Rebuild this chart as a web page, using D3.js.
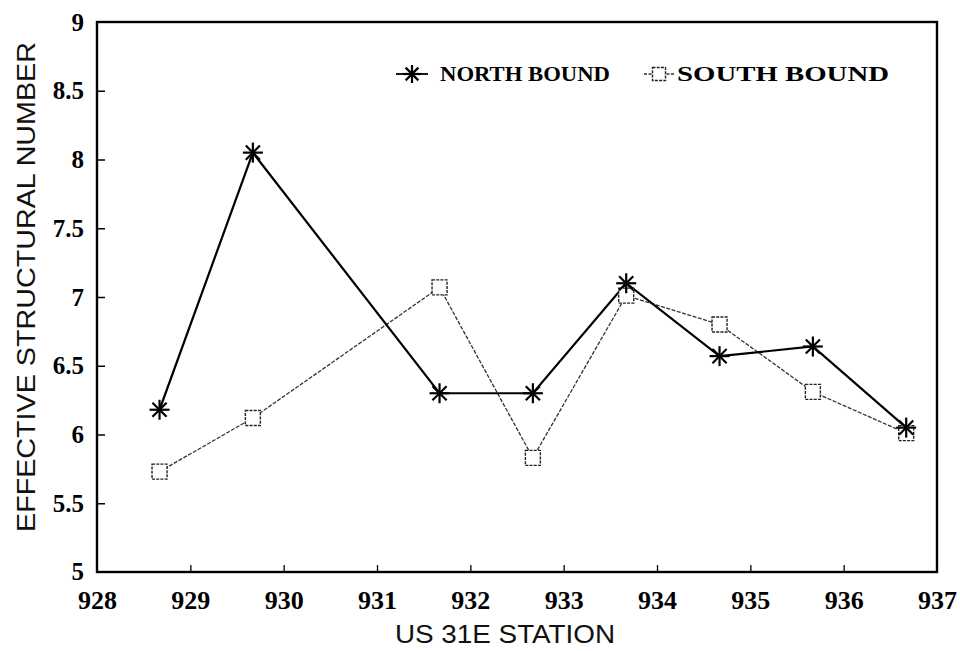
<!DOCTYPE html>
<html><head><meta charset="utf-8">
<script src="https://cdn.jsdelivr.net/npm/d3@7"></script>
<style>body{margin:0;background:#fff}svg{display:block}</style>
</head><body>
<script>
const stations = [928.67, 929.67, 931.67, 932.67, 933.67, 934.67, 935.67, 936.67];
const northBound = [6.18, 8.05, 6.30, 6.30, 7.10, 6.57, 6.64, 6.05];
const southBound = [5.73, 6.12, 7.07, 5.83, 7.01, 6.80, 6.31, 6.01];
const xTicks = [928, 929, 930, 931, 932, 933, 934, 935, 936, 937];
const yTicks = [5, 5.5, 6, 6.5, 7, 7.5, 8, 8.5, 9];

const W = 960, H = 651;
const m = {left: 97, right: 937, top: 22, bottom: 572};
const svg = d3.select("body").append("svg").attr("width", W).attr("height", H);
const x = d3.scaleLinear().domain([928, 937]).range([m.left, m.right]);
const y = d3.scaleLinear().domain([5, 9]).range([m.bottom, m.top]);

const tickFont = "'Liberation Serif', 'DejaVu Serif', serif";
const sansFont = "'Liberation Sans', Arial, sans-serif";

// frame
svg.append("rect").attr("x", m.left).attr("y", m.top)
  .attr("width", m.right - m.left).attr("height", m.bottom - m.top)
  .attr("fill", "none").attr("stroke", "#000").attr("stroke-width", 2.4);

// y axis
const yAxis = d3.axisLeft(y).tickValues(yTicks).tickSize(-8).tickPadding(13)
  .tickFormat(d => d3.format("")(d));
const gy = svg.append("g").attr("transform", `translate(${m.left},0)`).call(yAxis);
gy.select(".domain").remove();
gy.selectAll("line").attr("stroke", "#000").attr("stroke-width", 1.5);
gy.selectAll("text").attr("font-family", tickFont).attr("font-weight", "bold")
  .attr("font-size", 25).attr("fill", "#000");
gy.selectAll(".tick").filter(d => d === 5 || d === 9).select("line").remove();
gy.selectAll(".tick").filter(d => d === 5).select("text").attr("dy", "0.28em");

// x axis
const xAxis = d3.axisBottom(x).tickValues(xTicks).tickSize(-7).tickPadding(19)
  .tickFormat(d3.format("d"));
const gx = svg.append("g").attr("transform", `translate(0,${m.bottom})`).call(xAxis);
gx.select(".domain").remove();
gx.selectAll("line").attr("stroke", "#000").attr("stroke-width", 1.3);
gx.selectAll("text").attr("font-family", tickFont).attr("font-weight", "bold")
  .attr("font-size", 26).attr("fill", "#000");
gx.selectAll(".tick").filter(d => d === 928 || d === 937).select("line").remove();

// axis titles
svg.append("text").attr("x", 505).attr("y", 643)
  .attr("text-anchor", "middle").attr("font-family", sansFont)
  .attr("font-size", 26).attr("fill", "#111")
  .attr("textLength", 220).attr("lengthAdjust", "spacingAndGlyphs").text("US 31E STATION");
svg.append("text").attr("transform", `translate(35,287) rotate(-90)`)
  .attr("text-anchor", "middle").attr("font-family", sansFont)
  .attr("font-size", 25).attr("fill", "#111")
  .attr("textLength", 490).attr("lengthAdjust", "spacingAndGlyphs").text("EFFECTIVE STRUCTURAL NUMBER");

// lines
const line = d3.line().x((d, i) => x(stations[i])).y(d => y(d));
svg.append("path").datum(southBound).attr("d", line).attr("fill", "none")
  .attr("stroke", "#333").attr("stroke-width", 1.3).attr("stroke-dasharray", "4,1.5");
svg.append("path").datum(northBound).attr("d", line).attr("fill", "none")
  .attr("stroke", "#000").attr("stroke-width", 2.2);

function star(g, cx, cy, r) {
  for (let k = 0; k < 4; k++) {
    const a = k * Math.PI / 4;
    g.append("line").attr("x1", cx - r * Math.cos(a)).attr("y1", cy - r * Math.sin(a))
      .attr("x2", cx + r * Math.cos(a)).attr("y2", cy + r * Math.sin(a))
      .attr("stroke", "#000").attr("stroke-width", 2.2);
  }
}
function square(g, cx, cy, s) {
  g.append("rect").attr("x", cx - s / 2).attr("y", cy - s / 2).attr("width", s).attr("height", s)
    .attr("fill", "#fff").attr("stroke", "#222").attr("stroke-width", 1.4)
    .attr("stroke-dasharray", "3,1.2");
}
const gm = svg.append("g");
southBound.forEach((v, i) => square(gm, x(stations[i]), y(v), 15));
northBound.forEach((v, i) => star(gm, x(stations[i]), y(v), 10));

// legend
const lg = svg.append("g");
const ly = 74;
lg.append("line").attr("x1", 396).attr("x2", 428).attr("y1", ly).attr("y2", ly)
  .attr("stroke", "#000").attr("stroke-width", 1.8);
star(lg, 412, ly, 9);
lg.append("text").attr("x", 440).attr("y", ly + 7).attr("font-family", tickFont)
  .attr("font-weight", "bold").attr("font-size", 20).attr("textLength", 170)
  .attr("lengthAdjust", "spacingAndGlyphs").text("NORTH BOUND");
lg.append("line").attr("x1", 644).attr("x2", 674).attr("y1", ly).attr("y2", ly)
  .attr("stroke", "#333").attr("stroke-width", 1.3).attr("stroke-dasharray", "3,1.5");
square(lg, 659, ly, 13);
lg.append("text").attr("x", 677).attr("y", ly + 7).attr("font-family", tickFont)
  .attr("font-weight", "bold").attr("font-size", 20).attr("textLength", 212)
  .attr("lengthAdjust", "spacingAndGlyphs").text("SOUTH BOUND");
</script>
</body></html>
